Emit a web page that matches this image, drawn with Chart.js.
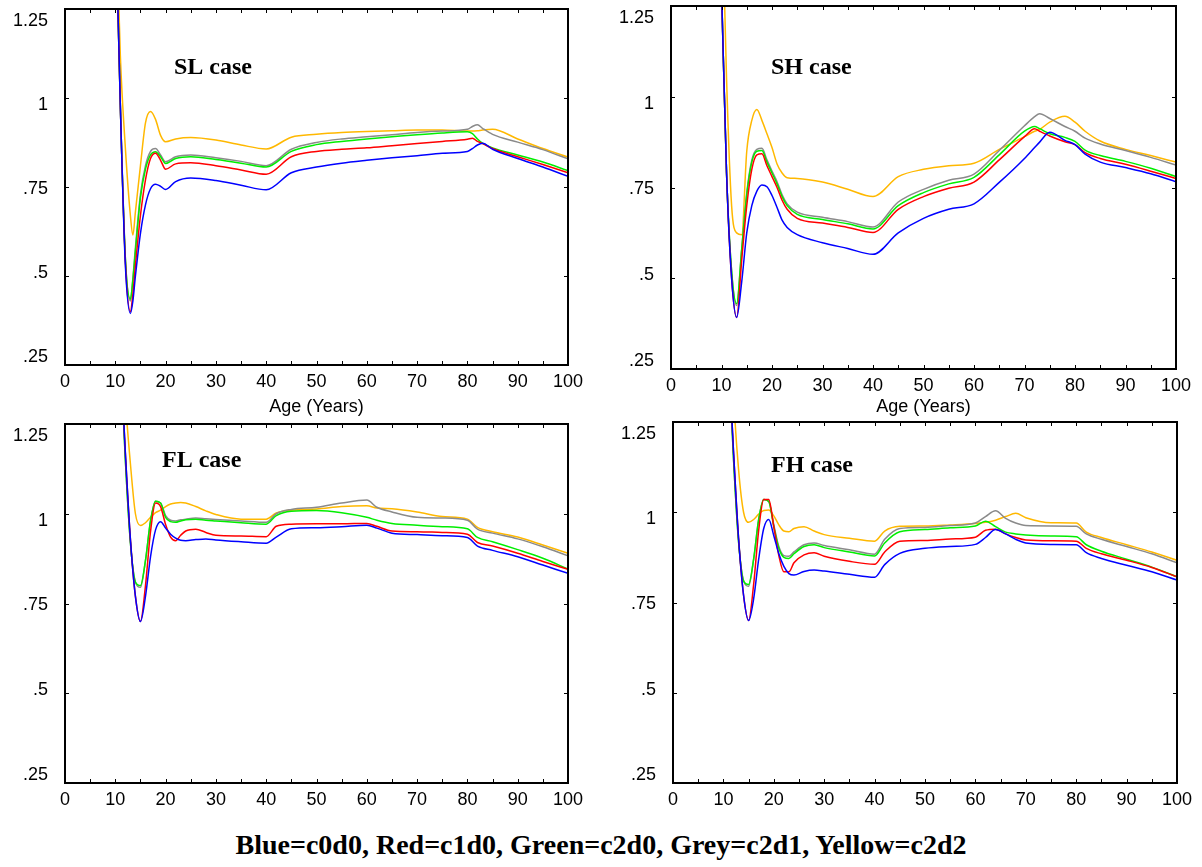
<!DOCTYPE html>
<html>
<head>
<meta charset="utf-8">
<script src="https://cdn.jsdelivr.net/npm/chart.js@4/dist/chart.umd.min.js"></script>
<style>
  body { margin: 0; background: #fff; }
  #wrap { position: relative; width: 1202px; height: 867px; background: #fff; }
  canvas { position: absolute; }
  #legendText {
    position: absolute; left: 0; top: 831px; width: 1202px; text-align: center;
    font: bold 28px "Liberation Serif", "Times New Roman", serif; line-height: 28px; color: #000;
  }
</style>
</head>
<body>
<div id="wrap">
  <canvas id="sl" width="601" height="420" style="left:0;top:0"></canvas>
  <canvas id="sh" width="601" height="420" style="left:601px;top:0"></canvas>
  <canvas id="fl" width="601" height="400" style="left:0;top:420px"></canvas>
  <canvas id="fh" width="601" height="400" style="left:601px;top:420px"></canvas>
  <div id="legendText">Blue=c0d0, Red=c1d0, Green=c2d0, Grey=c2d1, Yellow=c2d2</div>
</div>
<script>
// axis ticks
const yTicks = [0.25, 0.5, 0.75, 1, 1.25]
const yLabels = [".25", ".5", ".75", "1", "1.25"]
const xMin = 0, xMax = 100

// SL case
const slAge = [10, 11, 12, 13, 13.5, 14, 15, 16, 17, 18, 19, 20, 22, 25, 30, 35, 40, 45, 50, 55, 60, 65, 70, 75, 80, 81, 82, 83, 85, 90, 95, 100]
const slBlue = [1.55, 0.98, 0.53, 0.395, 0.43, 0.50, 0.62, 0.70, 0.745, 0.758, 0.752, 0.743, 0.765, 0.775, 0.768, 0.755, 0.742, 0.79, 0.806, 0.817, 0.825, 0.832, 0.838, 0.845, 0.85, 0.858, 0.868, 0.873, 0.856, 0.83, 0.806, 0.78]
const slRed = [1.55, 0.98, 0.54, 0.40, 0.45, 0.53, 0.67, 0.77, 0.83, 0.845, 0.825, 0.80, 0.815, 0.818, 0.81, 0.798, 0.786, 0.835, 0.85, 0.856, 0.86, 0.866, 0.872, 0.878, 0.884, 0.887, 0.878, 0.872, 0.858, 0.835, 0.813, 0.79]
const slGreen = [1.55, 0.98, 0.55, 0.435, 0.49, 0.57, 0.72, 0.80, 0.84, 0.849, 0.835, 0.816, 0.83, 0.835, 0.827, 0.817, 0.806, 0.85, 0.869, 0.878, 0.885, 0.891, 0.897, 0.902, 0.905, 0.9, 0.885, 0.873, 0.86, 0.84, 0.82, 0.796]
const slGrey = [1.55, 0.98, 0.55, 0.43, 0.495, 0.58, 0.73, 0.81, 0.85, 0.858, 0.84, 0.821, 0.835, 0.84, 0.832, 0.822, 0.81, 0.856, 0.875, 0.885, 0.891, 0.897, 0.903, 0.907, 0.912, 0.92, 0.925, 0.915, 0.898, 0.876, 0.855, 0.829]
const slYellow = [1.6, 1.12, 0.86, 0.67, 0.615, 0.68, 0.81, 0.93, 0.962, 0.94, 0.895, 0.877, 0.885, 0.889, 0.882, 0.868, 0.857, 0.89, 0.898, 0.903, 0.906, 0.908, 0.91, 0.91, 0.907, 0.907, 0.908, 0.91, 0.912, 0.885, 0.858, 0.834]

// SH case
const shAge = [10, 11, 12, 13, 14, 15, 16, 17, 18, 19, 20, 21, 22, 23, 25, 30, 35, 40, 45, 50, 55, 60, 65, 70, 72, 73, 75, 78, 80, 82, 85, 90, 95, 100]
const shBlue = [1.3, 0.79, 0.5, 0.392, 0.49, 0.625, 0.70, 0.74, 0.757, 0.752, 0.728, 0.695, 0.66, 0.64, 0.62, 0.598, 0.582, 0.566, 0.625, 0.665, 0.69, 0.705, 0.764, 0.83, 0.86, 0.875, 0.902, 0.88, 0.868, 0.842, 0.82, 0.805, 0.788, 0.766]
const shRed = [1.3, 0.79, 0.5, 0.392, 0.55, 0.70, 0.80, 0.84, 0.843, 0.81, 0.78, 0.75, 0.715, 0.69, 0.665, 0.652, 0.64, 0.626, 0.69, 0.725, 0.748, 0.765, 0.826, 0.89, 0.912, 0.905, 0.892, 0.876, 0.868, 0.846, 0.83, 0.814, 0.795, 0.775]
const shGreen = [1.3, 0.79, 0.52, 0.43, 0.58, 0.73, 0.82, 0.85, 0.852, 0.82, 0.79, 0.76, 0.725, 0.70, 0.676, 0.662, 0.65, 0.636, 0.70, 0.736, 0.76, 0.778, 0.84, 0.905, 0.918, 0.912, 0.898, 0.888, 0.877, 0.853, 0.838, 0.822, 0.803, 0.78]
const shGrey = [1.3, 0.79, 0.52, 0.425, 0.58, 0.735, 0.825, 0.855, 0.858, 0.826, 0.795, 0.766, 0.73, 0.705, 0.682, 0.668, 0.656, 0.641, 0.71, 0.745, 0.77, 0.787, 0.852, 0.92, 0.945, 0.953, 0.94, 0.918, 0.905, 0.886, 0.87, 0.852, 0.833, 0.812]
const shYellow = [1.6, 1.05, 0.70, 0.625, 0.62, 0.85, 0.935, 0.965, 0.935, 0.898, 0.86, 0.815, 0.79, 0.777, 0.775, 0.765, 0.745, 0.725, 0.78, 0.80, 0.81, 0.817, 0.855, 0.89, 0.905, 0.91, 0.93, 0.946, 0.93, 0.905, 0.878, 0.855, 0.838, 0.82]

// FL case
const flAge = [11, 12, 13, 14, 15, 16, 17, 18, 19, 20, 21, 22, 23, 24, 26, 28, 30, 35, 40, 42, 45, 50, 55, 60, 62, 65, 70, 75, 80, 82, 85, 90, 95, 100]
const flBlue = [1.45, 1.17, 0.93, 0.77, 0.70, 0.77, 0.88, 0.955, 0.978, 0.96, 0.943, 0.932, 0.926, 0.925, 0.928, 0.93, 0.927, 0.922, 0.918, 0.935, 0.958, 0.961, 0.964, 0.968, 0.96, 0.946, 0.942, 0.939, 0.934, 0.91, 0.898, 0.88, 0.857, 0.834]
const flRed = [1.45, 1.17, 0.93, 0.77, 0.70, 0.80, 0.95, 1.03, 1.02, 0.97, 0.935, 0.925, 0.94, 0.952, 0.957, 0.948, 0.94, 0.938, 0.936, 0.965, 0.971, 0.972, 0.972, 0.973, 0.965, 0.952, 0.95, 0.948, 0.943, 0.92, 0.91, 0.89, 0.867, 0.845]
const flGreen = [1.45, 1.15, 0.92, 0.81, 0.80, 0.87, 0.98, 1.035, 1.03, 0.99, 0.978, 0.976, 0.98, 0.983, 0.985, 0.982, 0.98, 0.975, 0.971, 0.995, 1.007, 1.009, 1.003, 0.99, 0.982, 0.973, 0.968, 0.964, 0.958, 0.934, 0.922, 0.9, 0.876, 0.846]
const flGrey = [1.45, 1.15, 0.92, 0.81, 0.795, 0.87, 0.98, 1.035, 1.03, 0.995, 0.982, 0.98, 0.983, 0.985, 0.988, 0.986, 0.984, 0.98, 0.976, 1.0, 1.012, 1.018, 1.03, 1.038, 1.018, 1.005, 0.99, 0.988, 0.982, 0.957, 0.946, 0.93, 0.908, 0.883]
const flYellow = [1.6, 1.32, 1.14, 1.0, 0.967, 0.975, 0.99, 1.003, 1.01, 1.02, 1.027, 1.03, 1.031, 1.03, 1.02, 1.008, 0.998, 0.985, 0.985, 1.002, 1.01, 1.013, 1.02, 1.022, 1.016, 1.014, 1.005, 0.992, 0.985, 0.962, 0.95, 0.935, 0.913, 0.89]

// FH case
const fhAge = [11, 12, 13, 14, 15, 16, 17, 18, 19, 20, 21, 22, 23, 24, 26, 28, 30, 35, 40, 42, 45, 50, 55, 60, 62, 64, 66, 68, 70, 75, 80, 82, 85, 90, 95, 100]
const fhBlue = [1.45, 1.17, 0.93, 0.77, 0.70, 0.76, 0.87, 0.955, 0.98, 0.935, 0.885, 0.85, 0.83, 0.826, 0.836, 0.84, 0.837, 0.828, 0.82, 0.855, 0.886, 0.9, 0.905, 0.911, 0.93, 0.952, 0.94, 0.925, 0.915, 0.911, 0.91, 0.888, 0.872, 0.853, 0.835, 0.812]
const fhRed = [1.45, 1.17, 0.93, 0.77, 0.70, 0.80, 0.95, 1.035, 1.035, 0.96, 0.88, 0.835, 0.835, 0.86, 0.882, 0.888, 0.878, 0.864, 0.856, 0.89, 0.92, 0.922, 0.926, 0.931, 0.95, 0.953, 0.94, 0.93, 0.923, 0.921, 0.92, 0.9, 0.885, 0.867, 0.847, 0.821]
const fhGreen = [1.45, 1.15, 0.92, 0.81, 0.80, 0.87, 0.98, 1.035, 1.03, 0.96, 0.9, 0.875, 0.872, 0.885, 0.905, 0.91, 0.902, 0.89, 0.879, 0.915, 0.946, 0.952, 0.957, 0.962, 0.975, 0.96, 0.945, 0.94, 0.937, 0.934, 0.932, 0.91, 0.892, 0.87, 0.848, 0.821]
const fhGrey = [1.45, 1.15, 0.92, 0.81, 0.795, 0.87, 0.98, 1.035, 1.03, 0.965, 0.905, 0.88, 0.878, 0.89, 0.91, 0.915, 0.908, 0.896, 0.884, 0.925, 0.955, 0.958, 0.963, 0.97, 0.988, 1.004, 0.983, 0.97, 0.963, 0.962, 0.961, 0.94, 0.925, 0.905, 0.885, 0.86]
const fhYellow = [1.7, 1.33, 1.12, 1.0, 0.972, 0.98, 0.995, 1.005, 1.006, 0.99, 0.965, 0.948, 0.946, 0.955, 0.96, 0.948, 0.938, 0.928, 0.92, 0.948, 0.961, 0.962, 0.965, 0.969, 0.972, 0.978, 0.988, 0.997, 0.985, 0.971, 0.97, 0.945, 0.93, 0.91, 0.89, 0.867]

const colours = { blue: "#0000ff", red: "#ff0000", green: "#00ee00", grey: "#8a8a8a", yellow: "#ffb800" }

// frame, inner tick marks, y labels and the case name
const framePlugin = {
  id: "frame",
  afterDraw(chart) {
    const ctx = chart.ctx
    const a = chart.chartArea
    const xs = chart.scales.x, ys = chart.scales.y
    const o = chart.options.plugins.frame
    ctx.save()
    ctx.strokeStyle = "#000"
    ctx.lineWidth = 1
    ctx.beginPath()
    for (let v = xMin + 5; v < xMax; v += 5) {
      const px = Math.round(xs.getPixelForValue(v)) + 0.5
      ctx.moveTo(px, a.top); ctx.lineTo(px, a.top + 4)
      ctx.moveTo(px, a.bottom); ctx.lineTo(px, a.bottom - 4)
    }
    yTicks.forEach(v => {
      const py = Math.round(ys.getPixelForValue(v)) + 0.5
      ctx.moveTo(a.left, py); ctx.lineTo(a.left + 4, py)
      ctx.moveTo(a.right, py); ctx.lineTo(a.right - 4, py)
    })
    ctx.stroke()
    ctx.lineWidth = 2
    ctx.strokeRect(a.left, a.top, a.right - a.left, a.bottom - a.top)

    // y labels, pulled a little toward the middle like the original
    ctx.fillStyle = "#000"
    ctx.font = '18px "Liberation Sans", Arial, sans-serif'
    ctx.textAlign = "right"
    ctx.textBaseline = "middle"
    const mid = (a.top + a.bottom) / 2
    yTicks.forEach((v, i) => {
      const p = ys.getPixelForValue(v)
      ctx.fillText(yLabels[i], a.left - 17, mid + 2 + (p - mid) * 0.944)
    })

    ctx.font = 'bold 24px "Liberation Serif", "Times New Roman", serif'
    ctx.textAlign = "left"
    ctx.textBaseline = "alphabetic"
    ctx.fillText(o.name, a.left + o.dx, a.top + o.dy)
    ctx.restore()
  }
}

function line(label, ages, vals, colour) {
  return {
    label: label,
    data: ages.map((x, i) => ({ x: x, y: vals[i] })),
    borderColor: colour,
    backgroundColor: colour,
    borderWidth: 1.5,
    pointRadius: 0,
    cubicInterpolationMode: "monotone",
    fill: false
  }
}

function makePanel(id, ages, blue, red, green, grey, yellow, o) {
  return new Chart(id, {
    type: "line",
    data: {
      datasets: [
        line("c0d0", ages, blue, colours.blue),
        line("c1d0", ages, red, colours.red),
        line("c2d0", ages, green, colours.green),
        line("c2d1", ages, grey, colours.grey),
        line("c2d2", ages, yellow, colours.yellow)
      ]
    },
    options: {
      responsive: false,
      animation: false,
      devicePixelRatio: 1,
      layout: { padding: { top: o.padTop, right: o.padRight, left: 0, bottom: 0 } },
      plugins: {
        legend: { display: false },
        tooltip: { enabled: false },
        frame: { name: o.name, dx: o.dx, dy: o.dy }
      },
      scales: {
        x: {
          type: "linear",
          min: xMin,
          max: xMax,
          grid: { display: false, drawTicks: false },
          border: { display: false },
          ticks: {
            stepSize: 10,
            autoSkip: false,
            maxRotation: 0,
            padding: 6,
            color: "#000",
            font: { family: '"Liberation Sans", Arial, sans-serif', size: 18 }
          },
          title: {
            display: o.axisTitle,
            text: "Age (Years)",
            color: "#000",
            padding: { top: 0, bottom: 2 },
            font: { family: '"Liberation Sans", Arial, sans-serif', size: 18 }
          },
          afterFit: s => { s.height = o.xh }
        },
        y: {
          type: "linear",
          min: 0.25,
          max: 1.25,
          grid: { display: false, drawTicks: false },
          border: { display: false },
          ticks: { display: false },
          afterFit: s => { s.width = o.yw }
        }
      }
    },
    plugins: [framePlugin]
  })
}

makePanel("sl", slAge, slBlue, slRed, slGreen, slGrey, slYellow,
  { name: "SL case", dx: 109, dy: 65, yw: 65, xh: 55, padTop: 9, padRight: 33, axisTitle: true })
makePanel("sh", shAge, shBlue, shRed, shGreen, shGrey, shYellow,
  { name: "SH case", dx: 100, dy: 68, yw: 70, xh: 51, padTop: 6, padRight: 26, axisTitle: true })
makePanel("fl", flAge, flBlue, flRed, flGreen, flGrey, flYellow,
  { name: "FL case", dx: 97, dy: 43, yw: 65, xh: 37, padTop: 4, padRight: 33, axisTitle: false })
makePanel("fh", fhAge, fhBlue, fhRed, fhGreen, fhGrey, fhYellow,
  { name: "FH case", dx: 98, dy: 50, yw: 72, xh: 37, padTop: 2, padRight: 25, axisTitle: false })
</script>
</body>
</html>
